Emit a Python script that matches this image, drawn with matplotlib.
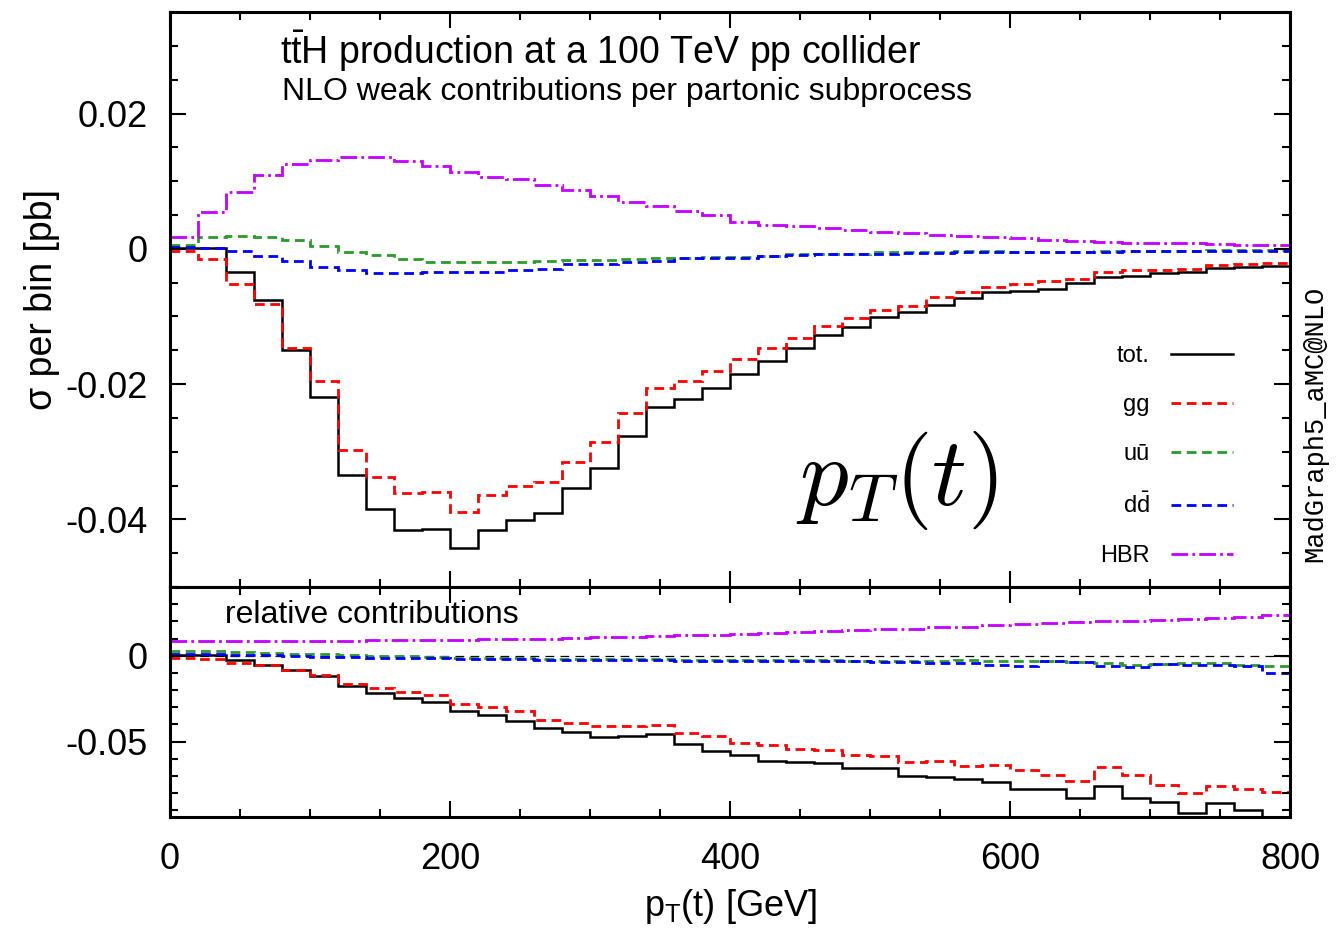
import numpy as np
import matplotlib
matplotlib.use('Agg')
import matplotlib.pyplot as plt
from matplotlib.ticker import MultipleLocator

# 20 GeV bins in pT(t) from 0 to 800 GeV
edges = np.arange(0, 820, 20)

# sigma per bin [pb], NLO weak contributions
tot = [0.0001, 0.0001, -0.0035, -0.0075, -0.0149, -0.0219, -0.0334, -0.0384, -0.0416, -0.0414,
       -0.0443, -0.0415, -0.0401, -0.0391, -0.0354, -0.0324, -0.0276, -0.0234, -0.0222, -0.0206,
       -0.0185, -0.0166, -0.0147, -0.0128, -0.0116, -0.0101, -0.0094, -0.0083, -0.0073, -0.0064,
       -0.0062, -0.0060, -0.0050, -0.0041, -0.0040, -0.0036, -0.0034, -0.0028, -0.0027, -0.0025]
gg = [-0.0003, -0.0015, -0.0052, -0.0082, -0.0146, -0.0196, -0.0298, -0.0338, -0.0361, -0.0360,
      -0.0389, -0.0364, -0.0351, -0.0345, -0.0315, -0.0286, -0.0242, -0.0206, -0.0196, -0.0180,
      -0.0163, -0.0147, -0.0132, -0.0114, -0.0103, -0.0090, -0.0084, -0.0071, -0.0064, -0.0057,
      -0.0052, -0.0047, -0.0045, -0.0035, -0.0032, -0.0031, -0.0030, -0.0024, -0.0023, -0.0021]
uu = [0.0006, 0.0018, 0.0019, 0.0017, 0.0013, 0.0004, -0.0004, -0.0009, -0.0015, -0.0020,
      -0.0020, -0.0020, -0.0019, -0.0018, -0.0017, -0.0017, -0.0015, -0.0014, -0.0013, -0.0012,
      -0.0012, -0.0011, -0.0008, -0.0008, -0.0007, -0.0005, -0.0005, -0.0005, -0.0003, -0.0003,
      -0.0004, -0.0004, -0.0004, -0.0003, -0.0003, -0.0003, -0.0003, -0.0002, -0.0002, -0.0002]
dd = [0.0002, 0.0001, -0.0003, -0.0010, -0.0018, -0.0027, -0.0032, -0.0036, -0.0036, -0.0035,
      -0.0035, -0.0034, -0.0032, -0.0030, -0.0022, -0.0022, -0.0020, -0.0018, -0.0014, -0.0014,
      -0.0013, -0.0011, -0.0009, -0.0008, -0.0008, -0.0007, -0.0006, -0.0006, -0.0005, -0.0005,
      -0.0004, -0.0004, -0.0004, -0.0004, -0.0003, -0.0003, -0.0003, -0.0003, -0.0003, -0.0003]
hbr = [0.0018, 0.0054, 0.0084, 0.0109, 0.0125, 0.0132, 0.0136, 0.0136, 0.0130, 0.0122,
       0.0114, 0.0106, 0.0103, 0.0095, 0.0087, 0.0078, 0.0069, 0.0063, 0.0056, 0.0050,
       0.0040, 0.0035, 0.0033, 0.0031, 0.0028, 0.0025, 0.0024, 0.0021, 0.0019, 0.0018,
       0.0016, 0.0013, 0.0012, 0.0010, 0.0009, 0.0008, 0.0008, 0.0007, 0.0006, 0.0005]

# relative contributions
rtot = [0.0005, 0.0002, -0.0027, -0.0052, -0.0085, -0.0120, -0.0178, -0.0217, -0.0246, -0.0269,
        -0.0324, -0.0343, -0.0378, -0.0424, -0.0446, -0.0473, -0.0469, -0.0459, -0.0512, -0.0556,
        -0.0579, -0.0616, -0.0620, -0.0624, -0.0655, -0.0655, -0.0701, -0.0708, -0.0721, -0.0736,
        -0.0779, -0.0775, -0.0827, -0.0760, -0.0827, -0.0853, -0.0919, -0.0860, -0.0899, -0.0980]
rgg = [-0.0014, -0.0020, -0.0043, -0.0052, -0.0081, -0.0110, -0.0165, -0.0188, -0.0213, -0.0231,
       -0.0279, -0.0298, -0.0324, -0.0372, -0.0391, -0.0411, -0.0411, -0.0401, -0.0453, -0.0469,
       -0.0508, -0.0521, -0.0543, -0.0550, -0.0581, -0.0585, -0.0620, -0.0614, -0.0640, -0.0634,
       -0.0667, -0.0696, -0.0731, -0.0649, -0.0696, -0.0754, -0.0802, -0.0760, -0.0779, -0.0793]
ruu = [0.0029, 0.0027, 0.0022, 0.0017, 0.0012, 0.0008, 0.0004, 0.0000, -0.0004, -0.0008,
       -0.0012, -0.0014, -0.0016, -0.0018, -0.0019, -0.0020, -0.0021, -0.0022, -0.0023, -0.0024,
       -0.0025, -0.0026, -0.0026, -0.0027, -0.0028, -0.0029, -0.0030, -0.0030, -0.0023, -0.0033,
       -0.0033, -0.0033, -0.0038, -0.0043, -0.0052, -0.0046, -0.0043, -0.0043, -0.0052, -0.0058]
rdd = [0.0012, 0.0010, 0.0006, 0.0002, -0.0002, -0.0006, -0.0010, -0.0012, -0.0014, -0.0016,
       -0.0018, -0.0020, -0.0022, -0.0023, -0.0024, -0.0025, -0.0026, -0.0027, -0.0028, -0.0029,
       -0.0030, -0.0031, -0.0031, -0.0032, -0.0033, -0.0034, -0.0035, -0.0043, -0.0043, -0.0052,
       -0.0062, -0.0033, -0.0038, -0.0058, -0.0068, -0.0046, -0.0052, -0.0052, -0.0058, -0.0101]
rhbr = [0.0083, 0.0083, 0.0084, 0.0085, 0.0086, 0.0087, 0.0088, 0.0090, 0.0091, 0.0093,
        0.0094, 0.0096, 0.0098, 0.0100, 0.0103, 0.0107, 0.0111, 0.0115, 0.0119, 0.0123,
        0.0128, 0.0132, 0.0137, 0.0142, 0.0147, 0.0153, 0.0158, 0.0165, 0.0170, 0.0178,
        0.0186, 0.0190, 0.0196, 0.0200, 0.0203, 0.0210, 0.0215, 0.0222, 0.0228, 0.0238]

labels = ['tot.', 'gg', 'u\u016b', r'd$\mathrm{\bar{d}}$', 'HBR']
colors = ['black', '#ff0000', '#2a9a2a', '#0000ff', '#c400ff']
styles = ['-', (0, (3.5, 2)), (0, (3.5, 2)), (0, (3.5, 2)), (0, (6, 1.5, 1, 1.5))]
widths = [1.8, 2.0, 2.0, 2.0, 2.0]

plt.rcParams['font.family'] = ['Liberation Sans', 'DejaVu Sans']
plt.rcParams['mathtext.fontset'] = 'custom'
plt.rcParams['mathtext.rm'] = 'Liberation Sans'
plt.rcParams['mathtext.it'] = 'Liberation Sans:italic'
plt.rcParams['mathtext.bf'] = 'Liberation Sans:bold'
plt.rcParams['axes.unicode_minus'] = False

fig = plt.figure(figsize=(13.37, 9.33), dpi=100)
ax1 = fig.add_axes([0.1271, 0.3708, 0.8377, 0.6163])
ax2 = fig.add_axes([0.1271, 0.1243, 0.8377, 0.2465])

handles = []
for vals, c, ls, lw, lab in zip([tot, gg, uu, dd, hbr], colors, styles, widths, labels):
    h = ax1.stairs(vals, edges, baseline=None, color=c, linestyle=ls, linewidth=lw, label=lab)
    handles.append(h)
for vals, c, ls, lw in zip([rtot, rgg, ruu, rdd, rhbr], colors, styles, widths):
    ax2.stairs(vals, edges, baseline=None, color=c, linestyle=ls, linewidth=lw)
ax2.axhline(0, color='black', linestyle=(0, (7, 5)), linewidth=0.9, zorder=0)

ax1.set_xlim(0, 800)
ax1.set_ylim(-0.05, 0.035)
ax2.set_xlim(0, 800)
ax2.set_ylim(-0.094, 0.04)

for ax in (ax1, ax2):
    ax.xaxis.set_major_locator(MultipleLocator(200))
    ax.xaxis.set_minor_locator(MultipleLocator(50))
    ax.tick_params(which='both', direction='in', top=True, right=True, width=1.5,
                   labelsize=26, pad=16)
    ax.tick_params(which='major', length=11.5)
    ax.tick_params(which='minor', length=5.8)
    for sp in ax.spines.values():
        sp.set_linewidth(2.2)

ax1.yaxis.set_major_locator(MultipleLocator(0.02))
ax1.yaxis.set_minor_locator(MultipleLocator(0.005))
ax1.set_yticks([0.02, 0, -0.02, -0.04])
ax1.set_yticklabels(['0.02', '0', '-0.02', '-0.04'])
ax1.tick_params(labelbottom=False)

ax2.set_yticks([0, -0.05])
ax2.set_yticklabels(['0', '-0.05'])
ax2.yaxis.set_minor_locator(MultipleLocator(0.01))
ax2.set_xticks([0, 200, 400, 600, 800])
ax2.tick_params(axis='x', pad=18)

ax1.text(0.098, 0.932, r'$\mathrm{t\bar{t}}$H production at a 100 TeV pp collider',
         transform=ax1.transAxes, fontsize=27, va='center', ha='left')
ax1.text(0.100, 0.861, 'NLO weak contributions per partonic subprocess',
         transform=ax1.transAxes, fontsize=23, va='center', ha='left')
ax1.text(0.649, 0.1426, r'$p_T(t)$', transform=ax1.transAxes, fontsize=70,
         ha='center', va='baseline', math_fontfamily='cm')
ax2.text(0.049, 0.878, 'relative contributions', transform=ax2.transAxes,
         fontsize=23, va='center', ha='left')

ax1.legend(handles=handles, loc='center right', bbox_to_anchor=(0.949, 0.228),
           markerfirst=False, frameon=False, fontsize=17, handlelength=2.6,
           handletextpad=0.93, labelspacing=1.15, borderpad=0, borderaxespad=0)

fig.text(42 / 1337, 1 - 300 / 933, '\u03c3 per bin [pb]', rotation=90,
         fontsize=27, ha='center', va='center')
fig.text(730 / 1337, 1 - 906 / 933, r'p$_\mathrm{T}$(t) [GeV]',
         fontsize=26, ha='center', va='center')
fig.text(1315 / 1337, 1 - 424 / 933, 'MadGraph5_aMC@NLO', rotation=90,
         fontsize=19.5, ha='center', va='center', family='Liberation Mono')

fig.savefig('out.png', dpi=100)
